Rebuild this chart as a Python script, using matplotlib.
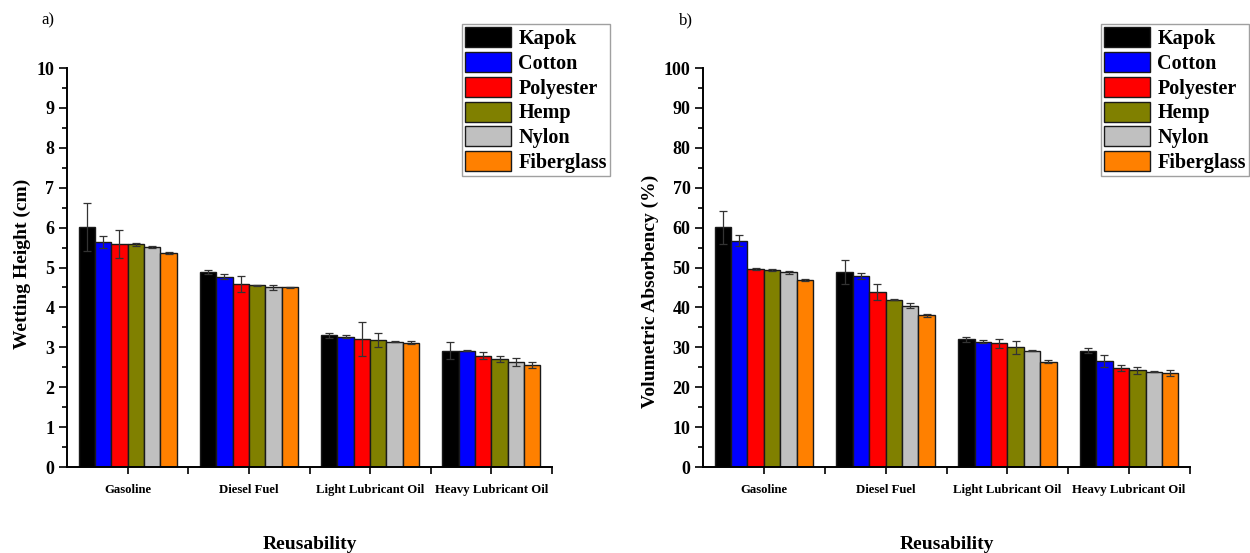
import numpy as np
import matplotlib
matplotlib.use("Agg")
import matplotlib.pyplot as plt
from matplotlib.ticker import MultipleLocator, FixedLocator

plt.rcParams['font.family'] = ['Liberation Serif', 'DejaVu Serif']

oils = ["Gasoline", "Diesel Fuel", "Light Lubricant Oil", "Heavy Lubricant Oil"]
fibers = ["Kapok", "Cotton", "Polyester", "Hemp", "Nylon", "Fiberglass"]
colors = ["#000000", "#0000FF", "#FF0000", "#808000", "#C0C0C0", "#FF8000"]

# Wetting height (cm): rows = fibers, columns = oils
height_mean = [
    [6.01, 4.89, 3.30, 2.92],   # Kapok
    [5.64, 4.77, 3.27, 2.92],   # Cotton
    [5.58, 4.59, 3.21, 2.79],   # Polyester
    [5.58, 4.55, 3.19, 2.71],   # Hemp
    [5.51, 4.50, 3.14, 2.62],   # Nylon
    [5.36, 4.50, 3.12, 2.56],   # Fiberglass
]
height_err = [
    [0.60, 0.06, 0.07, 0.21],
    [0.16, 0.07, 0.03, 0.02],
    [0.35, 0.20, 0.42, 0.08],
    [0.03, 0.01, 0.17, 0.07],
    [0.03, 0.06, 0.01, 0.10],
    [0.02, 0.02, 0.04, 0.08],
]

# Volumetric absorbency (%)
absorb_mean = [
    [60.1, 48.9, 32.0, 29.2],
    [56.7, 47.8, 31.4, 26.6],
    [49.6, 43.8, 31.0, 24.8],
    [49.4, 41.9, 30.0, 24.2],
    [48.8, 40.4, 29.2, 23.9],
    [46.9, 38.0, 26.4, 23.5],
]
absorb_err = [
    [4.1, 3.0, 0.7, 0.6],
    [1.4, 0.8, 0.4, 1.5],
    [0.3, 2.0, 1.2, 0.8],
    [0.3, 0.1, 1.7, 0.8],
    [0.4, 0.6, 0.2, 0.2],
    [0.3, 0.3, 0.4, 0.7],
]

fig = plt.figure(figsize=(12.5, 5.53), dpi=100)
ax_a = fig.add_axes([0.0536, 0.1555, 0.388, 0.7215])
ax_b = fig.add_axes([0.5624, 0.1555, 0.3896, 0.7215])

bar_w = 0.135
x = np.arange(len(oils))


def draw_panel(ax, means, errs, ymax, ystep, ylabel, tag, legend_anchor,
               ylabel_xy):
    for i, (fib, col) in enumerate(zip(fibers, colors)):
        pos = x + (i - 2.5) * bar_w
        ax.bar(pos, means[i], width=bar_w, color=col, edgecolor="#1a1a1a",
               linewidth=1.0, label=fib, zorder=2)
        ax.errorbar(pos, means[i], yerr=errs[i], fmt="none", ecolor="#333333",
                    elinewidth=0.9, capsize=3, capthick=0.9, zorder=3)
    ax.set_xlim(-0.5, 3.5)
    ax.set_ylim(0, ymax)
    ax.yaxis.set_major_locator(MultipleLocator(ystep))
    ax.yaxis.set_minor_locator(MultipleLocator(ystep / 2))
    ax.set_xticks(x)
    ax.set_xticklabels(oils, fontsize=9.2, fontweight="bold")
    ax.xaxis.set_minor_locator(FixedLocator([0.5, 1.5, 2.5, 3.5]))
    for lab in ax.get_yticklabels():
        lab.set_fontsize(13)
        lab.set_fontweight("bold")
    ax.tick_params(axis="y", which="major", direction="out", length=6, width=1.2, pad=3)
    ax.tick_params(axis="y", which="minor", direction="out", length=3.5, width=1.2)
    ax.tick_params(axis="x", which="both", direction="out", length=5, width=1.2, pad=7)
    for s in ("top", "right"):
        ax.spines[s].set_visible(False)
    for s in ("left", "bottom"):
        ax.spines[s].set_linewidth(1.4)
    ax.set_ylabel(ylabel, fontsize=14, fontweight="bold")
    ax.yaxis.set_label_coords(*ylabel_xy)
    ax.set_xlabel("Reusability", fontsize=14, fontweight="bold", labelpad=29)
    fig.text(tag[1], tag[2], tag[0], fontsize=12, ha="left", va="center")
    leg = ax.legend(loc="upper left", bbox_to_anchor=legend_anchor,
                    bbox_transform=fig.transFigure,
                    prop={"weight": "bold", "size": 14.5},
                    frameon=True, fancybox=False, edgecolor="#888888",
                    handlelength=2.3, handleheight=1.15, labelspacing=0.15,
                    handletextpad=0.35, borderpad=0.15, borderaxespad=0)
    leg.get_frame().set_linewidth(1.0)


draw_panel(ax_a, height_mean, height_err, 10, 1, "Wetting Height (cm)",
           ("a)", 0.033, 0.964), (462 / 1250, 1 - 24 / 553), (-0.074, 0.51))
draw_panel(ax_b, absorb_mean, absorb_err, 100, 10, "Volumetric Absorbency (%)",
           ("b)", 0.543, 0.964), (1101 / 1250, 1 - 24 / 553), (-0.090, 0.44))

fig.savefig("out.png", dpi=100)
